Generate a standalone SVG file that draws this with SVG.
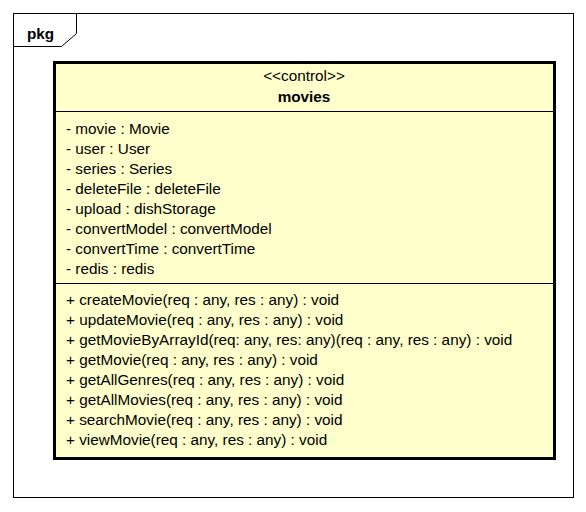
<svg xmlns="http://www.w3.org/2000/svg" width="586" height="512" viewBox="0 0 586 512">
<style>
.frame{fill:none;stroke:#000;stroke-width:1}
.cls{fill:#FFFFCC;stroke:#000;stroke-width:3}
.sep{stroke:#000;stroke-width:1}
text{font-family:"Liberation Sans",Arial,sans-serif;font-size:15.3px;fill:#000}
.b{font-weight:bold}
.c{text-anchor:middle}
</style>
<rect width="586" height="512" fill="#fff"/>
<g id="pkg">
<rect class="frame" x="13.5" y="13.5" width="560" height="484"/>
<path class="frame" d="M13.5,46.5 H61.5 L76.5,33.5 V13.5"/>
<text class="b" x="27" y="39">pkg</text>
</g>
<g id="movies">
<rect class="cls" x="54.5" y="62.5" width="500" height="396"/>
<line class="sep" x1="55" y1="111.5" x2="554" y2="111.5"/>
<line class="sep" x1="55" y1="283.5" x2="554" y2="283.5"/>
<text class="c" x="304" y="81">&lt;&lt;control&gt;&gt;</text>
<text class="c b" x="304" y="102">movies</text>
<text x="66" y="134">- movie : Movie</text>
<text x="66" y="154">- user : User</text>
<text x="66" y="174">- series : Series</text>
<text x="66" y="194">- deleteFile : deleteFile</text>
<text x="66" y="214">- upload : dishStorage</text>
<text x="66" y="234">- convertModel : convertModel</text>
<text x="66" y="254">- convertTime : convertTime</text>
<text x="66" y="274">- redis : redis</text>
<text x="66" y="305">+ createMovie(req : any, res : any) : void</text>
<text x="66" y="325">+ updateMovie(req : any, res : any) : void</text>
<text x="66" y="345">+ getMovieByArrayId(req: any, res: any)(req : any, res : any) : void</text>
<text x="66" y="365">+ getMovie(req : any, res : any) : void</text>
<text x="66" y="385">+ getAllGenres(req : any, res : any) : void</text>
<text x="66" y="405">+ getAllMovies(req : any, res : any) : void</text>
<text x="66" y="425">+ searchMovie(req : any, res : any) : void</text>
<text x="66" y="445">+ viewMovie(req : any, res : any) : void</text>
</g>
<g id="connectors"></g>
</svg>
